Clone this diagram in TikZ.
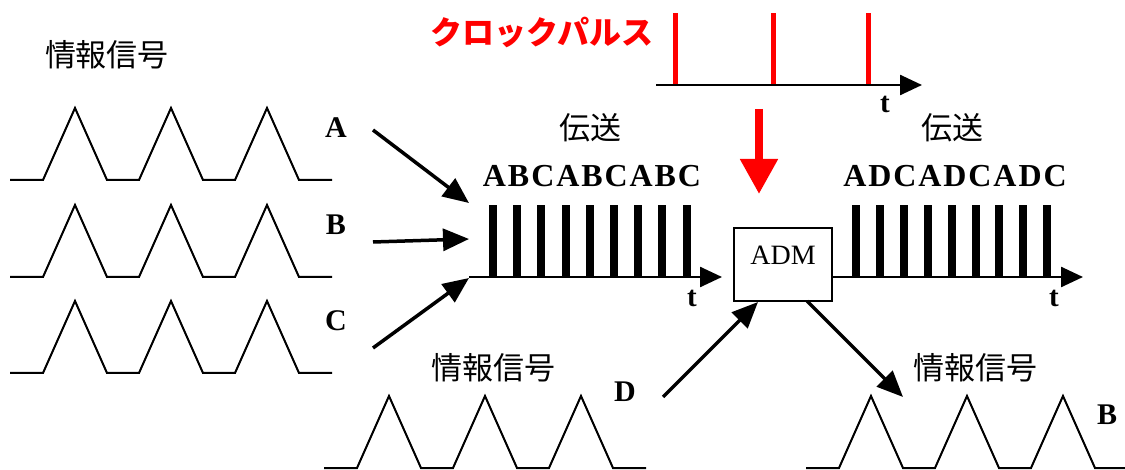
\documentclass[tikz,border=0pt]{standalone}
\usepackage{fontspec}
\setmainfont{Liberation Serif}
\newfontfamily\jp{Noto Sans CJK JP}
\usetikzlibrary{arrows.meta}
\definecolor{clockred}{RGB}{255,0,0}
\tikzset{
  wavestyle/.style={line width=2pt, line join=miter},
  jtext/.style={inner sep=0pt, font=\jp\fontsize{31}{33}\selectfont},
  lab/.style={inner sep=0pt, font=\bfseries\fontsize{30}{32}\selectfont},
  seq/.style={inner sep=0pt, font=\bfseries\addfontfeature{LetterSpace=6}\fontsize{32}{34}\selectfont},
  tlab/.style={inner sep=0pt, font=\bfseries\fontsize{29}{31}\selectfont},
  axis/.style={line width=2.5pt, -{Triangle[length=22pt 0,width=20pt 0]}},
  bar/.style={line width=8pt},
  redpulse/.style={line width=5pt, draw=clockred},
  feed/.style={line width=3.5pt, -{Triangle[length=26pt 0,width=22pt 0]}},
  redarrow/.style={line width=8pt, draw=clockred, -{Triangle[length=35pt 0,width=36pt 0]}},
  admbox/.style={draw, line width=2pt, minimum width=98pt, minimum height=73pt, inner sep=0pt},
}
\newcommand\mywave[3]{%
  \draw[wavestyle] (#1,#2) -- ++(33,0) -- ++(32,-72) -- ++(32,72) -- ++(32,0)
    -- ++(32,-72) -- ++(32,72) -- ++(32,0) -- ++(32,-72) -- ++(32,72) -- ++(#3,0);}
\begin{document}
\begin{tikzpicture}[x=1pt,y=-1pt]
\useasboundingbox (0,0) rectangle (1125,470);
% left information signals
\node[jtext] (title1) at (107,55) {情報信号};
\mywave{10}{180}{33}
\mywave{10}{277}{33}
\mywave{10}{373}{33}
\node[lab] (la) at (336,128) {A};
\node[lab] (lb) at (336,225) {B};
\node[lab] (lc) at (336,321) {C};
% arrows into multiplexer
\coordinate (a0) at (373,130);
\coordinate (a1) at (469,203);
\coordinate (b0) at (373,242);
\coordinate (b1) at (469,239);
\coordinate (c0) at (373,348);
\coordinate (c1) at (469,278);
\draw[feed] (a0) -- (a1);
\draw[feed] (b0) -- (b1);
\draw[feed] (c0) -- (c1);
% first TDM train
\coordinate (ax1s) at (469,277);
\coordinate (ax1e) at (722,277);
\foreach \i in {0,...,8} \draw[bar] ({493+24.2*\i},277) -- ++(0,-72);
\draw[axis] (ax1s) -- (ax1e);
\node[tlab] (t1) at (692,298) {t};
\node[jtext] (tx1) at (590,128) {伝送};
\node[seq] (s1) at (592,176) {ABCABCABC};
% clock
\node[inner sep=0pt, text=clockred, font=\jp\bfseries\fontsize{32}{34}\selectfont] (clk) at (542,32) {クロックパルス};
\coordinate (ck0) at (656,85);
\coordinate (ck1) at (922,85);
\foreach \x in {675,773,868} \draw[redpulse] (\x,85) -- (\x,13);
\draw[axis] (ck0) -- (ck1);
\node[tlab] (t0) at (885,104) {t};
\coordinate (r0) at (759,109);
\coordinate (r1) at (759,194);
\draw[redarrow] (r0) -- (r1);
% ADM
\node[admbox] (adm) at (783,264.5) {};
\node[inner sep=0pt, font=\fontsize{28}{30}\selectfont] (admt) at (783,255) {ADM};
% second train
\coordinate (ax2e) at (1083,277);
\foreach \i in {0,...,8} \draw[bar] ({856+23.9*\i},277) -- ++(0,-72);
\draw[axis] (adm.east |- ax2e) -- (ax2e);
\node[tlab] (t2) at (1054,298) {t};
\node[jtext] (tx2) at (952,128) {伝送};
\node[seq] (s2) at (955,176) {ADCADCADC};
% D in, B out
\node[jtext] (title2) at (493,368) {情報信号};
\mywave{324}{468}{33}
\node[lab] (ld) at (625,392) {D};
\coordinate (d0) at (663,397);
\coordinate (d1) at (758,302);
\draw[feed] (d0) -- (d1);
\coordinate (o0) at (807,301);
\coordinate (o1) at (903,397);
\draw[feed] (o0) -- (o1);
\node[jtext] (title3) at (975,368) {情報信号};
\mywave{806}{468}{30}
\node[lab] (lb2) at (1107,415) {B};
\end{tikzpicture}
\end{document}
